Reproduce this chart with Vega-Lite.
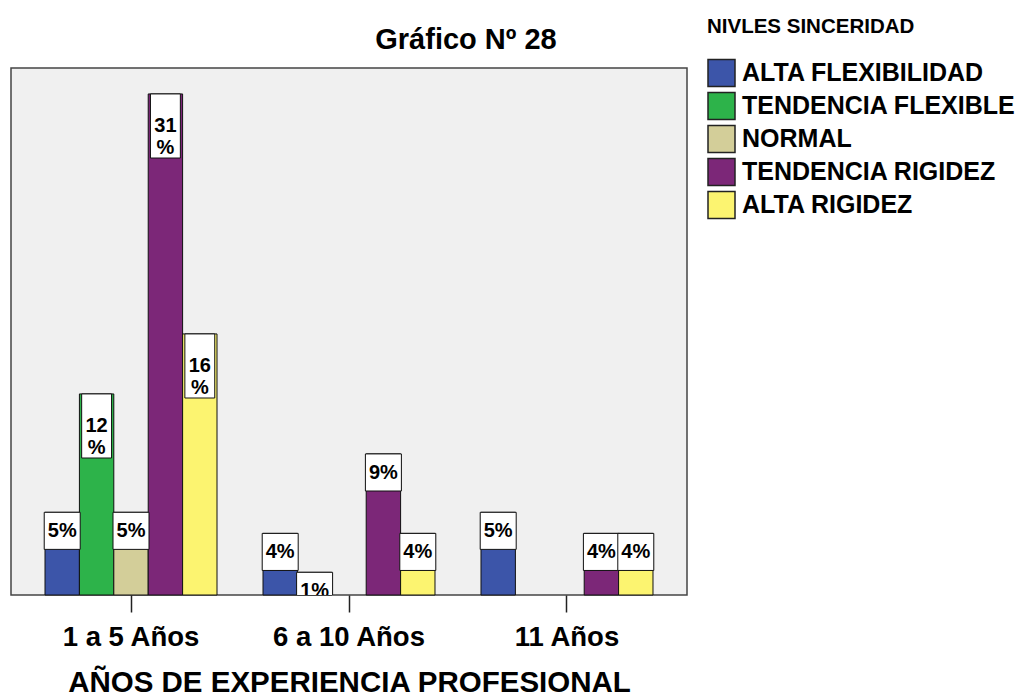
{
  "$schema": "https://vega.github.io/schema/vega-lite/v6.json",
  "width": 676,
  "height": 527,
  "autosize": {"type": "none"},
  "padding": {"left": 11, "top": 68, "right": 342, "bottom": 105},
  "background": "white",
  "config": {
    "view": {"fill": "#f0f0f0", "stroke": "#444444", "strokeWidth": 1.5}
  },
  "title": {
    "text": "Gráfico Nº 28",
    "font": "Liberation Sans",
    "fontSize": 29,
    "fontWeight": "bold",
    "color": "black",
    "anchor": "middle",
    "frame": "group",
    "dx": 117,
    "dy": 75,
    "offset": 14,
    "baseline": "alphabetic"
  },
  "data": {
    "values": [
      {"grupo": "1  a 5 Años", "nivel": "ALTA FLEXIBILIDAD", "valor": 5.1, "etiqueta": "5%"},
      {"grupo": "1  a 5 Años", "nivel": "TENDENCIA FLEXIBLE", "valor": 12.4, "etiqueta": "12\n%"},
      {"grupo": "1  a 5 Años", "nivel": "NORMAL", "valor": 5.1, "etiqueta": "5%"},
      {"grupo": "1  a 5 Años", "nivel": "TENDENCIA  RIGIDEZ", "valor": 30.9, "etiqueta": "31\n%"},
      {"grupo": "1  a 5 Años", "nivel": "ALTA RIGIDEZ", "valor": 16.1, "etiqueta": "16\n%"},
      {"grupo": "6 a 10 Años", "nivel": "ALTA FLEXIBILIDAD", "valor": 3.8, "etiqueta": "4%"},
      {"grupo": "6 a 10 Años", "nivel": "TENDENCIA FLEXIBLE", "valor": 1.4, "etiqueta": "1%"},
      {"grupo": "6 a 10 Años", "nivel": "TENDENCIA  RIGIDEZ", "valor": 8.7, "etiqueta": "9%"},
      {"grupo": "6 a 10 Años", "nivel": "ALTA RIGIDEZ", "valor": 3.8, "etiqueta": "4%"},
      {"grupo": "11 Años", "nivel": "ALTA FLEXIBILIDAD", "valor": 5.1, "etiqueta": "5%"},
      {"grupo": "11 Años", "nivel": "TENDENCIA  RIGIDEZ", "valor": 3.8, "etiqueta": "4%"},
      {"grupo": "11 Años", "nivel": "ALTA RIGIDEZ", "valor": 3.8, "etiqueta": "4%"}
    ]
  },
  "encoding": {
    "x": {
      "field": "grupo",
      "type": "nominal",
      "sort": ["1  a 5 Años", "6 a 10 Años", "11 Años"],
      "scale": {"paddingInner": 0.211, "paddingOuter": 0.156},
      "axis": {
        "title": "AÑOS DE EXPERIENCIA PROFESIONAL",
        "titleFont": "Liberation Sans",
        "titleFontSize": 29.5,
        "titleFontWeight": "bold",
        "titleColor": "black",
        "titlePadding": 18,
        "labelFont": "Liberation Sans",
        "labelFontSize": 27.5,
        "labelFontWeight": "bold",
        "labelColor": "black",
        "labelAngle": 0,
        "labelPadding": 11,
        "labelLimit": 400,
        "tickSize": 17,
        "tickColor": "#222222",
        "tickWidth": 1.5,
        "domain": false
      }
    },
    "xOffset": {
      "field": "nivel",
      "type": "nominal",
      "scale": {
        "domain": ["ALTA FLEXIBILIDAD", "TENDENCIA FLEXIBLE", "NORMAL", "TENDENCIA  RIGIDEZ", "ALTA RIGIDEZ"],
        "paddingInner": 0,
        "paddingOuter": 0
      }
    },
    "y": {
      "field": "valor",
      "type": "quantitative",
      "scale": {"domain": [0, 32.5]},
      "axis": null
    }
  },
  "layer": [
    {
      "mark": {"type": "bar", "stroke": "#111111", "strokeWidth": 1, "opacity": 1},
      "encoding": {
        "color": {
          "field": "nivel",
          "type": "nominal",
          "scale": {
            "domain": ["ALTA FLEXIBILIDAD", "TENDENCIA FLEXIBLE", "NORMAL", "TENDENCIA  RIGIDEZ", "ALTA RIGIDEZ"],
            "range": ["#3c55a9", "#2db34a", "#d3ce99", "#7c2778", "#fcf470"]
          },
          "legend": {
            "orient": "none",
            "legendX": 696,
            "legendY": -51,
            "title": "NIVLES SINCERIDAD",
            "titleFont": "Liberation Sans",
            "titleFontSize": 20.5,
            "titleFontWeight": "bold",
            "titleColor": "black",
            "titleAnchor": "start",
            "titlePadding": 21,
            "titleLimit": 400,
            "labelFont": "Liberation Sans",
            "labelFontSize": 25,
            "labelFontWeight": "bold",
            "labelColor": "black",
            "labelLimit": 400,
            "labelOffset": 6,
            "symbolType": "square",
            "symbolSize": 729,
            "symbolStrokeColor": "#222222",
            "symbolStrokeWidth": 1.5,
            "symbolOpacity": 1,
            "rowPadding": 0
          }
        }
      }
    },
    {
      "transform": [{"filter": "datum.valor < 10"}],
      "mark": {
        "type": "point",
        "shape": "M-1,0H1V2.06H-1Z",
        "size": 1296,
        "filled": true,
        "fill": "white",
        "stroke": "#111111",
        "strokeWidth": 1,
        "opacity": 1,
        "clip": true
      }
    },
    {
      "transform": [{"filter": "datum.valor >= 10"}],
      "mark": {
        "type": "point",
        "shape": "M-0.83,0H0.83V3.56H-0.83Z",
        "size": 1296,
        "filled": true,
        "fill": "white",
        "stroke": "#111111",
        "strokeWidth": 1,
        "opacity": 1,
        "clip": true
      }
    },
    {
      "transform": [{"filter": "datum.valor < 10"}],
      "mark": {
        "type": "text",
        "font": "Liberation Sans",
        "fontSize": 20,
        "fontWeight": "bold",
        "color": "black",
        "baseline": "middle",
        "align": "center",
        "dy": 19,
        "clip": true
      },
      "encoding": {"text": {"field": "etiqueta"}}
    },
    {
      "transform": [{"filter": "datum.valor >= 10"}],
      "mark": {
        "type": "text",
        "font": "Liberation Sans",
        "fontSize": 20,
        "fontWeight": "bold",
        "color": "black",
        "baseline": "middle",
        "align": "center",
        "lineBreak": "\n",
        "lineHeight": 22,
        "dy": 32,
        "clip": true
      },
      "encoding": {"text": {"field": "etiqueta"}}
    }
  ]
}
